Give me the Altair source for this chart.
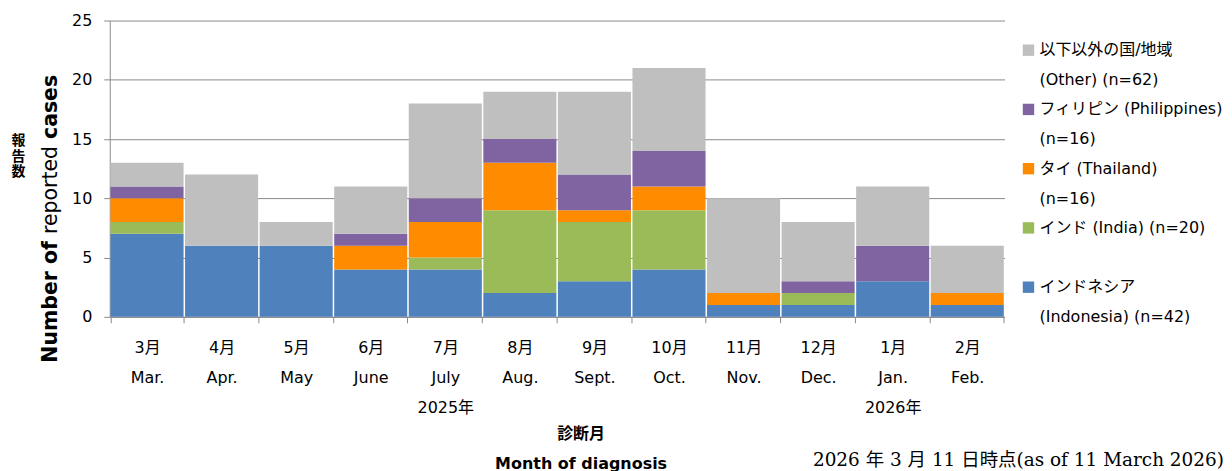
import altair as alt
import pandas as pd

# ---------------- data ----------------
months_jp = ["3月", "4月", "5月", "6月", "7月", "8月", "9月", "10月", "11月", "12月", "1月", "2月"]
months_en = ["Mar.", "Apr.", "May", "June", "July", "Aug.", "Sept.", "Oct.", "Nov.", "Dec.", "Jan.", "Feb."]
year_marks = ["", "", "", "", "2025年", "", "", "", "", "", "2026年", ""]

series_keys = ["Indonesia", "India", "Thailand", "Philippines", "Other"]
indonesia = [7, 6, 6, 4, 4, 2, 3, 4, 1, 1, 3, 1]
india = [1, 0, 0, 0, 1, 7, 5, 5, 0, 1, 0, 0]
thailand = [2, 0, 0, 2, 3, 4, 1, 2, 1, 0, 0, 1]
philippines = [1, 0, 0, 1, 2, 2, 3, 3, 0, 1, 3, 0]
other = [2, 6, 2, 4, 8, 4, 7, 7, 8, 5, 5, 4]
series_colors = ["#4F81BD", "#9BBB59", "#FF8C00", "#8064A2", "#BFBFBF"]

legend_line1 = ["インドネシア", "インド (India) (n=20)", "タイ (Thailand)",
                "フィリピン (Philippines)", "以下以外の国/地域"]
legend_line2 = ["(Indonesia) (n=42)", "", "(n=16)", "(n=16)", "(Other) (n=62)"]

x_title = ["診断月", "Month of diagnosis"]
y_title_parts = ["Number of ", "reported ", "cases"]
y_title_weights = ["bold", "normal", "bold"]
y_title_jp = "報\n告\n数"
date_note = "2026 年 3 月 11 日時点(as of 11 March 2026)"

# ---------------- tables ----------------
month_labels = ["|".join([p for p in (j, e, y) if p]) for j, e, y in zip(months_jp, months_en, year_marks)]
series_values = [indonesia, india, thailand, philippines, other]
rows = []
for si, (key, vals) in enumerate(zip(series_keys, series_values)):
    for m, v in zip(month_labels, vals):
        rows.append({"month": m, "series": key, "value": v, "order": si})
df = pd.DataFrame(rows)

legend_df = pd.DataFrame({
    "key": series_keys,
    "line1": legend_line1,
    "line2": legend_line2,
})
legend_order = list(reversed(series_keys))

SANS = "Verdana, 'DejaVu Sans', 'Noto Sans CJK JP', sans-serif"
SERIF = "'DejaVu Serif', 'Liberation Serif', 'Noto Sans CJK JP', serif"
GRID = "#8a8a8a"
W, H = 897, 297

color_scale = alt.Scale(domain=series_keys, range=series_colors)

bars = alt.Chart(df).mark_bar().encode(
    x=alt.X("month:N", sort=month_labels,
            scale=alt.Scale(paddingInner=0.02, paddingOuter=0.01),
            axis=alt.Axis(
                title=x_title, titleFont=SANS, titleFontSize=16, titleFontWeight="bold",
                titleColor="#000000", titleLineHeight=30, titleX=472, titleY=109,
                titleBaseline="top", titleAlign="center", titleAngle=0,
                labelExpr="split(datum.label, '|')", labelAngle=0, labelFont=SANS,
                labelFontSize=16, labelColor="#000000", labelLineHeight=30,
                labelPadding=17, labelBaseline="top",
                tickSize=6, tickBand="extent", tickColor=GRID, domainColor=GRID,
                grid=False)),
    y=alt.Y("value:Q", stack="zero",
            scale=alt.Scale(domain=[0, 25], nice=False),
            axis=alt.Axis(title=None, values=[0, 5, 10, 15, 20, 25], grid=True,
                          gridColor=GRID, gridWidth=1, tickSize=6, tickColor=GRID,
                          domainColor=GRID, labelFont=SANS, labelFontSize=16,
                          labelColor="#000000", labelPadding=12)),
    color=alt.Color("series:N", scale=color_scale, legend=None),
    order=alt.Order("order:Q"),
)

leg_y = alt.Y("key:N", sort=legend_order, axis=None,
              scale=alt.Scale(type="point", padding=0.5))
leg_base = alt.Chart(legend_df)
leg_sq = leg_base.mark_square(size=130, opacity=1).encode(
    x=alt.value(921), y=leg_y,
    color=alt.Color("key:N", scale=color_scale, legend=None))
leg_t1 = leg_base.mark_text(align="left", baseline="middle", font=SANS, fontSize=16,
                            color="#000000").encode(
    x=alt.value(932), y=leg_y, text="line1:N")
leg_t2 = leg_base.mark_text(align="left", baseline="middle", font=SANS, fontSize=16,
                            color="#000000", dy=30).encode(
    x=alt.value(932), y=leg_y, text="line2:N")
legend = alt.layer(leg_sq, leg_t1, leg_t2)

# y-axis titles (mixed weight, rotated)
fs = 20.5
w_number = 6.297 * fs
w_reported = 4.644 * fs
y_start = 343
offsets = [y_start, y_start - w_number, y_start - w_number - w_reported]
yt_layers = []
for part, weight, yy in zip(y_title_parts, y_title_weights, offsets):
    yt_layers.append(
        alt.Chart(pd.DataFrame({"t": [part]})).mark_text(
            angle=270, align="left", baseline="alphabetic", font=SANS, fontSize=fs,
            fontWeight=weight, color="#000000").encode(
            text="t:N", x=alt.value(-53), y=alt.value(yy)))

jp_title = alt.Chart(pd.DataFrame({"t": [y_title_jp]})).mark_text(
    align="center", baseline="top", font=SANS, fontSize=14, fontWeight="bold",
    lineBreak="\n", lineHeight=15.5, color="#000000").encode(
    text="t:N", x=alt.value(-91.5), y=alt.value(114))

date_text = alt.Chart(pd.DataFrame({"t": [date_note]})).mark_text(
    align="right", baseline="alphabetic", font=SERIF, fontSize=18.5,
    color="#000000").encode(
    text="t:N", x=alt.value(1117), y=alt.value(447))

chart = alt.layer(bars, legend, *yt_layers, jp_title, date_text).resolve_scale(
    y="independent", color="shared"
).properties(
    width=W, height=H,
    padding={"left": 3, "top": 4, "right": 0, "bottom": 0},
    background="#ffffff",
).configure_view(stroke=None)

chart.save("out.html", embed_options={"renderer": "svg", "actions": False})
